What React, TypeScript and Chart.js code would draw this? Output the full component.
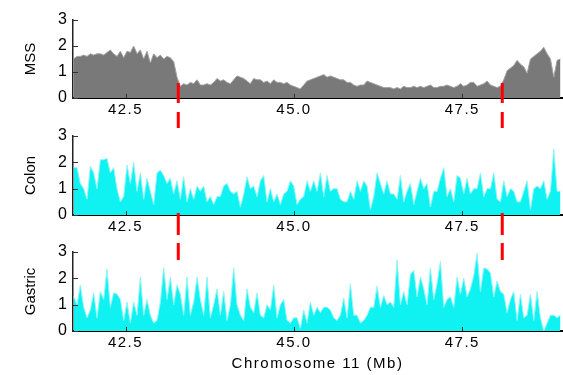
import React, { useEffect, useRef } from 'react';
import { Chart, registerables } from 'chart.js';

Chart.register(...registerables);

// ---- data ----
const X_MIN = 41.72;
const X_MAX = 48.98;
const X_START = 41.73;
const X_STEP = 0.0495;
const X_TICKS = [42.5, 45.0, 47.5];
const Y_TICKS = [0, 1, 2, 3];
const BREAKPOINTS = [43.283, 48.093];
const X_TITLE = 'Chromosome 11 (Mb)';

const MSS = [
  1.5, 1.6, 1.6, 1.65, 1.6, 1.7, 1.65, 1.7, 1.7, 1.65,
  1.75, 1.85, 1.7, 1.6, 1.8, 1.55, 1.8, 1.75, 2.0, 1.7,
  1.85, 1.5, 1.8, 1.35, 1.7, 1.55, 1.65, 1.5, 1.6, 1.55,
  1.4, 0.8, 0.45, 0.55, 0.5, 0.6, 0.55, 0.7, 0.5, 0.5,
  0.55, 0.5, 0.6, 0.75, 0.65, 0.7, 0.6, 0.55, 0.7, 0.85,
  0.8, 0.75, 0.65, 0.55, 0.75, 0.7, 0.7, 0.6, 0.65, 0.55,
  0.7, 0.6, 0.6, 0.55, 0.6, 0.5, 0.45, 0.4, 0.35, 0.5,
  0.65, 0.7, 0.75, 0.8, 0.85, 0.9, 0.8, 0.85, 0.8, 0.75,
  0.7, 0.7, 0.6, 0.6, 0.5, 0.45, 0.5, 0.5, 0.65, 0.6,
  0.55, 0.5, 0.45, 0.4, 0.4, 0.4, 0.35, 0.4, 0.35, 0.45,
  0.4, 0.4, 0.45, 0.4, 0.45, 0.4, 0.45, 0.5, 0.4, 0.4,
  0.45, 0.45, 0.5, 0.45, 0.4, 0.45, 0.55, 0.45, 0.5, 0.6,
  0.6, 0.45, 0.5, 0.55, 0.65, 0.5, 0.45, 0.4, 0.45, 0.7,
  1.05, 1.15, 1.25, 1.45, 1.3, 1.2, 0.95, 1.5, 1.6, 1.7,
  1.8, 1.95, 1.7, 1.5, 0.8, 1.45, 1.5,
];

const COLON = [
  1.8, 1.8, 1.2, 1.0, 0.6, 1.85, 1.6, 1.0, 2.1, 2.1,
  2.15, 1.6, 1.8, 1.0, 0.5, 0.7, 1.9, 1.2, 2.0, 0.9,
  1.6, 0.6, 1.4, 0.9, 0.4, 1.6, 1.7, 1.5, 1.2, 1.4,
  0.8, 1.3, 0.6, 1.45, 0.5, 1.0, 0.6, 1.1, 0.9, 1.1,
  0.5, 0.7, 0.4, 0.7, 0.7, 1.1, 1.2, 0.9, 0.8, 0.9,
  0.3, 0.8, 1.45, 1.0, 1.1, 0.7, 1.3, 1.5, 0.5, 1.0,
  0.5, 0.8, 0.4, 0.8, 0.9, 1.3, 1.1, 0.4, 0.6, 0.7,
  1.3, 0.9, 1.3, 0.9, 1.6, 0.7, 1.5, 0.9, 1.0, 1.0,
  0.6, 0.5, 0.5, 0.9, 0.6, 1.3, 0.9, 1.3, 1.1, 0.2,
  0.7, 1.6, 1.2, 0.8, 1.3, 0.8, 0.8, 0.6, 1.5, 0.5,
  0.9, 1.2, 0.4, 0.9, 1.4, 1.0, 1.2, 0.3, 0.9, 0.9,
  1.4, 1.8, 0.7, 1.0, 0.5, 1.5, 1.4, 0.8, 1.4, 0.8,
  1.0, 1.0, 1.6, 0.7, 1.0, 1.0, 1.6, 0.6, 0.5, 1.3,
  0.7, 1.0, 0.9, 0.5, 0.5, 0.9, 1.3, 0.2, 1.0, 1.1,
  1.0, 1.3, 0.6, 0.9, 2.5, 0.9, 0.9,
];

const GASTRIC = [
  1.3, 1.0, 1.75, 0.9, 0.5, 0.8, 1.45, 0.5, 1.5, 1.2,
  2.35, 0.9, 1.45, 1.4, 1.2, 0.4, 1.1, 0.3, 1.1, 0.6,
  2.05, 0.6, 1.2, 0.6, 0.3, 0.4, 1.1, 2.4, 1.2, 2.05,
  1.0, 1.75, 1.4, 0.6, 2.05, 0.6, 1.1, 2.05, 1.2, 0.6,
  2.05, 0.5, 1.0, 1.6, 0.6, 1.5, 0.4, 1.0, 2.4, 1.0,
  0.6, 0.4, 1.6, 0.9, 0.7, 1.45, 0.6, 0.5, 1.0, 0.8,
  1.75, 0.5, 1.0, 1.2, 0.4, 0.3, 0.5, 0.5, 0.1, 0.8,
  0.3, 1.1, 0.6, 0.9, 0.7, 0.9, 0.9, 0.8, 0.5, 0.4,
  0.6, 1.25, 0.5, 1.8, 0.6, 0.6, 0.3, 0.4, 0.6, 0.9,
  0.9, 1.7, 0.9, 1.35, 1.0, 1.1, 0.9, 2.7, 1.0, 1.5,
  1.0, 2.15, 2.3, 1.3, 2.05, 1.6, 1.0, 2.4, 1.2, 1.8,
  2.65, 0.9, 1.2, 1.3, 0.9, 2.05, 1.4, 2.0, 1.3, 1.6,
  2.1, 2.95, 1.5, 2.4, 2.35, 2.2, 1.3, 1.9, 1.5, 1.4,
  0.7, 1.2, 1.5, 0.4, 1.4, 0.5, 0.6, 1.4, 0.4, 1.5,
  0.5, 0.0, 0.3, 0.6, 0.6, 0.5, 0.6,
];

const FONT = "'Liberation Sans', Arial, Helvetica, sans-serif";

type PanelCfg = {
  key: string;
  label: string;
  values: number[];
  fill: string;
  border: string;
  top: number;
  height: number;
  padTop: number;
  xAxisHeight: number;
  showTitle: boolean;
  dashes: [number, number][];
};

const PANELS: PanelCfg[] = [
  { key: 'mss', label: 'MSS', values: MSS, fill: '#797979', border: '#a2a2a2', top: 0, height: 130, padTop: 20, xAxisHeight: 32, showTitle: false, dashes: [[-15, 5], [14, 30]] },
  { key: 'colon', label: 'Colon', values: COLON, fill: '#10f2f2', border: '#8ef6f6', top: 120, height: 120, padTop: 16, xAxisHeight: 25, showTitle: false, dashes: [[-2, 20]] },
  { key: 'gastric', label: 'Gastric', values: GASTRIC, fill: '#10f2f2', border: '#8ef6f6', top: 240, height: 135, padTop: 12, xAxisHeight: 44, showTitle: true, dashes: [[-88, -71]] },
];

const decorPlugin = {
  id: 'decor',
  afterLayout(chart: any) {
    const sc: any = chart.scales.x;
    if (sc && !sc.__ls) {
      sc.__ls = true;
      ['drawLabels', 'drawTitle'].forEach((fn) => {
        const orig = sc[fn];
        sc[fn] = function (...args: any[]) {
          const c: any = this.ctx;
          const prev = c.letterSpacing;
          c.letterSpacing = '1.5px';
          try {
            return orig.apply(this, args);
          } finally {
            c.letterSpacing = prev || '0px';
          }
        };
      });
    }
  },
  afterDraw(chart: any, _args: any, opts: any) {
    const { ctx, chartArea: a, scales } = chart;
    const x = scales.x;
    const y = scales.y;
    ctx.save();
    ctx.strokeStyle = '#333';
    ctx.lineWidth = 1;
    Y_TICKS.forEach((v) => {
      const py = Math.round(y.getPixelForValue(v)) + 0.5;
      ctx.beginPath();
      ctx.moveTo(a.left, py);
      ctx.lineTo(a.left + 5, py);
      ctx.stroke();
    });
    X_TICKS.forEach((v) => {
      const px = Math.round(x.getPixelForValue(v)) + 0.5;
      ctx.beginPath();
      ctx.moveTo(px, a.bottom);
      ctx.lineTo(px, a.bottom - 4);
      ctx.stroke();
    });
    ctx.strokeStyle = '#ff0000';
    ctx.lineWidth = 3;
    ctx.lineCap = 'butt';
    const dashes: [number, number][] = (opts && opts.dashes) || [];
    BREAKPOINTS.forEach((b) => {
      const px = x.getPixelForValue(b);
      dashes.forEach(([d0, d1]) => {
        ctx.beginPath();
        ctx.moveTo(px, a.bottom + d0);
        ctx.lineTo(px, a.bottom + d1);
        ctx.stroke();
      });
    });
    ctx.restore();
  },
};

function Panel({ cfg }: { cfg: PanelCfg }) {
  const ref = useRef<HTMLCanvasElement>(null);
  useEffect(() => {
    const canvas = ref.current!;
    const chart = new Chart(canvas, {
      type: 'line',
      data: {
        datasets: [
          {
            data: cfg.values.map((v, i) => ({ x: X_START + i * X_STEP, y: v })),
            fill: 'origin',
            backgroundColor: cfg.fill,
            borderColor: cfg.border,
            borderWidth: 1,
            pointRadius: 0,
            tension: 0,
          },
        ],
      },
      options: {
        responsive: false,
        animation: false,
        devicePixelRatio: 1,
        layout: { padding: { top: cfg.padTop, right: 1, left: 0, bottom: 0 } },
        plugins: {
          legend: { display: false },
          tooltip: { enabled: false },
          decor: { dashes: cfg.dashes },
        } as any,
        scales: {
          x: {
            type: 'linear',
            min: X_MIN,
            max: X_MAX,
            afterBuildTicks: (ax: any) => {
              ax.ticks = X_TICKS.map((value) => ({ value }));
            },
            afterFit: (ax: any) => {
              ax.height = cfg.xAxisHeight;
              ax.paddingLeft = 0;
              ax.paddingRight = 0;
            },
            ticks: {
              callback: (v: any) => Number(v).toFixed(1),
              color: '#000',
              font: { family: FONT, size: 15 },
              padding: 3,
              maxRotation: 0,
              autoSkip: false,
            },
            grid: { display: false, drawTicks: false },
            border: { display: true, color: '#000', width: 2 },
            title: {
              display: cfg.showTitle,
              text: X_TITLE,
              color: '#000',
              font: { family: FONT, size: 15 },
              padding: { top: 0, bottom: 2 },
            },
          },
          y: {
            min: 0,
            max: 3,
            afterBuildTicks: (ax: any) => {
              ax.ticks = Y_TICKS.map((value) => ({ value }));
            },
            afterFit: (ax: any) => {
              ax.width = 73;
              ax.paddingTop = 0;
              ax.paddingBottom = 0;
            },
            ticks: {
              color: '#000',
              font: { family: FONT, size: 16 },
              padding: 6,
            },
            grid: { display: false, drawTicks: false },
            border: { display: true, color: '#222', width: 1.5 },
            title: {
              display: true,
              text: cfg.label,
              color: '#000',
              font: { family: FONT, size: 15 },
              padding: { top: 22, bottom: 0 },
            },
          },
        },
      } as any,
      plugins: [decorPlugin as any],
    });
    return () => chart.destroy();
  }, [cfg]);
  return (
    <canvas
      ref={ref}
      width={563}
      height={cfg.height}
      style={{ position: 'absolute', left: 0, top: cfg.top, width: 563, height: cfg.height }}
    />
  );
}

export default function App() {
  return (
    <div style={{ position: 'absolute', left: 0, top: 0, width: 563, height: 375, background: '#fff' }}>
      {PANELS.map((p) => (
        <Panel key={p.key} cfg={p} />
      ))}
    </div>
  );
}
